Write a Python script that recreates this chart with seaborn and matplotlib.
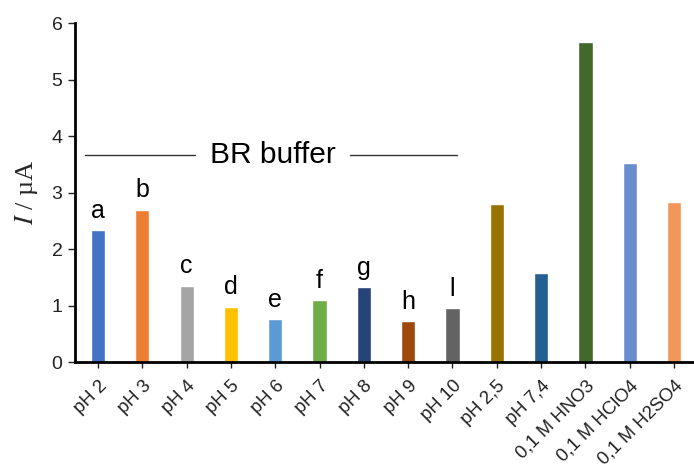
import pandas as pd
import seaborn as sns
import matplotlib.pyplot as plt

categories = ['pH 2', 'pH 3', 'pH 4', 'pH 5', 'pH 6', 'pH 7', 'pH 8', 'pH 9', 'pH 10',
              'pH 2,5', 'pH 7,4', '0,1 M HNO3', '0,1 M HClO4', '0,1 M H2SO4']
currents = [2.33, 2.70, 1.35, 0.98, 0.76, 1.10, 1.33, 0.72, 0.95,
            2.80, 1.58, 5.67, 3.52, 2.83]
letters = ['a', 'b', 'c', 'd', 'e', 'f', 'g', 'h', 'l']
colors = ['#4472C4', '#ED7D31', '#A5A5A5', '#FFC000', '#5B9BD5', '#70AD47', '#264478',
          '#9E480E', '#636363', '#997300', '#255E91', '#43682B', '#698ED0', '#F1975A']

df = pd.DataFrame({'cat': categories, 'I': currents})

sns.set_style('white')
plt.rcParams['font.family'] = ['Liberation Sans', 'DejaVu Sans']
plt.rcParams['mathtext.fontset'] = 'stix'

fig = plt.figure(figsize=(6.94, 4.72), dpi=100)
ax = fig.add_axes([0.108, 0.233, 0.892, 0.718])

sns.barplot(data=df, x='cat', y='I', hue='cat', palette=colors, legend=False,
            width=0.32, saturation=1, ax=ax)

# letters above the buffer bars
for i, lab in enumerate(letters):
    ax.text(i, currents[i] + 0.13, lab, ha='center', va='bottom', fontsize=18, color='black')

# BR buffer bracket line
ax.plot([-0.29, 2.19], [3.66, 3.66], color='#333333', lw=1)
ax.plot([5.69, 8.1], [3.66, 3.66], color='#333333', lw=1)
ax.text(3.94, 3.66, 'BR buffer', ha='center', va='center', fontsize=21.5, color='black')

ax.set_ylim(0, 6)
ax.set_xlim(-0.52, 13.45)
ax.set_yticks(range(7))
ax.tick_params(axis='y', labelsize=14, length=5, width=1, direction='out', left=True,
               colors='#222222', pad=4)
ax.tick_params(axis='x', labelsize=13.3, length=4, width=1, direction='out', bottom=True,
               colors='#222222', pad=7)
for lab in ax.get_xticklabels():
    lab.set_rotation(45)
    lab.set_ha('right')
    lab.set_rotation_mode('anchor')

ax.set_xlabel('')
ax.set_ylabel(r'$I$ / µA', fontsize=19, family=['Liberation Serif', 'DejaVu Serif'], labelpad=8)

sns.despine(ax=ax)
ax.spines['left'].set_linewidth(2)
ax.spines['bottom'].set_linewidth(2)
ax.spines['left'].set_color('black')
ax.spines['bottom'].set_color('black')

fig.savefig('out.png', dpi=100)
